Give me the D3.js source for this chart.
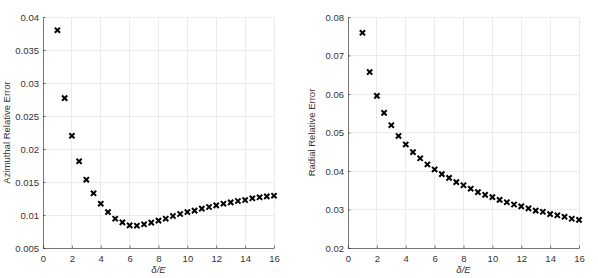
<!DOCTYPE html>
<html><head><meta charset="utf-8">
<script src="https://cdn.jsdelivr.net/npm/d3@7"></script>
<style>
body{margin:0;background:#fff;}
text{font-family:"Liberation Sans",Arial,sans-serif;}
</style></head>
<body>
<svg id="c" width="598" height="278"></svg>
<script>
const xVals = [1,1.5,2,2.5,3,3.5,4,4.5,5,5.5,6,6.5,7,7.5,8,8.5,9,9.5,10,10.5,11,11.5,12,12.5,13,13.5,14,14.5,15,15.5,16];
const azimuthal = [0.0380,0.0277,0.0220,0.01814,0.01535,0.01329,0.01171,0.01045,0.00944,0.00889,0.00843,0.00838,0.00859,0.00884,0.00914,0.00944,0.00985,0.01015,0.01045,0.01066,0.01096,0.01121,0.01146,0.01171,0.01192,0.01212,0.01227,0.01253,0.01268,0.01283,0.01292];
const radial = [0.0759,0.0657,0.0595,0.0551,0.0519,0.0491,0.0469,0.0449,0.0433,0.0417,0.0404,0.0392,0.0382,0.0371,0.0363,0.0354,0.0345,0.0338,0.0332,0.0325,0.0319,0.0313,0.0308,0.0303,0.0297,0.0294,0.0288,0.0285,0.0281,0.0276,0.0273];
const xTicks = [0,2,4,6,8,10,12,14,16];
const azTicks = [0.005,0.01,0.015,0.02,0.025,0.03,0.035,0.04];
const azTickLabels = ["0.005","0.01","0.015","0.02","0.025","0.03","0.035","0.04"];
const radTicks = [0.02,0.03,0.04,0.05,0.06,0.07,0.08];
const radTickLabels = ["0.02","0.03","0.04","0.05","0.06","0.07","0.08"];
const xLabel = "δ/E";

const svg = d3.select("#c");

function panel(left, values, yDomain, yTicks, yTickLabels, yLabel, yLabelX) {
  const top = 17, bottom = 248, right = left + 231;
  const x = d3.scaleLinear().domain([0,16]).range([left,right]);
  const y = d3.scaleLinear().domain(yDomain).range([bottom,top]);
  const g = svg.append("g");
  // grid
  g.selectAll(".gx").data(xTicks).enter().append("line")
    .attr("x1",d=>x(d)).attr("x2",d=>x(d)).attr("y1",top).attr("y2",bottom)
    .attr("stroke","#ebebeb").attr("stroke-width",1).attr("shape-rendering","crispEdges");
  g.selectAll(".gy").data(yTicks).enter().append("line")
    .attr("x1",left).attr("x2",right).attr("y1",d=>y(d)).attr("y2",d=>y(d))
    .attr("stroke","#ebebeb").attr("stroke-width",1).attr("shape-rendering","crispEdges");
  // axes
  const xa = g.append("g").attr("transform",`translate(0,${bottom})`)
    .call(d3.axisBottom(x).tickValues(xTicks).tickSizeInner(-2.5).tickSizeOuter(0).tickPadding(7));
  const ya = g.append("g").attr("transform",`translate(${left},0)`)
    .call(d3.axisLeft(y).tickValues(yTicks).tickFormat((d,i)=>yTickLabels[i]).tickSizeInner(-2.5).tickSizeOuter(0).tickPadding(4));
  [xa,ya].forEach(a=>{
    a.select(".domain").attr("stroke","#262626").attr("stroke-width",0.6);
    a.selectAll(".tick line").attr("stroke","#262626").attr("stroke-width",0.6);
    a.selectAll("text").attr("fill","#333").attr("font-size","9.5px").attr("font-family","'Liberation Sans',Arial,sans-serif");
  });
  // labels
  g.append("text").attr("x",(left+right)/2).attr("y",273).attr("text-anchor","middle")
    .attr("font-size","9.5px").attr("fill","#333").attr("font-style","italic").text(xLabel);
  g.append("text").attr("transform",`translate(${yLabelX},${(top+bottom)/2}) rotate(-90)`)
    .attr("text-anchor","middle").attr("font-size","9.5px").attr("fill","#333").text(yLabel);
  // markers
  const s = 2.6;
  const pts = g.selectAll(".pt").data(xVals.map((d,i)=>[d,values[i]])).enter().append("path")
    .attr("d",d=>{const cx=x(d[0]), cy=y(d[1]);
      return `M${cx-s},${cy-s}L${cx+s},${cy+s}M${cx-s},${cy+s}L${cx+s},${cy-s}`;})
    .attr("stroke","#000").attr("stroke-width",2).attr("fill","none");
}

panel(43, azimuthal, [0.005,0.04], azTicks, azTickLabels, "Azimuthal Relative Error", 10);
panel(348, radial, [0.02,0.08], radTicks, radTickLabels, "Radial Relative Error", 315);
</script>
</body></html>
